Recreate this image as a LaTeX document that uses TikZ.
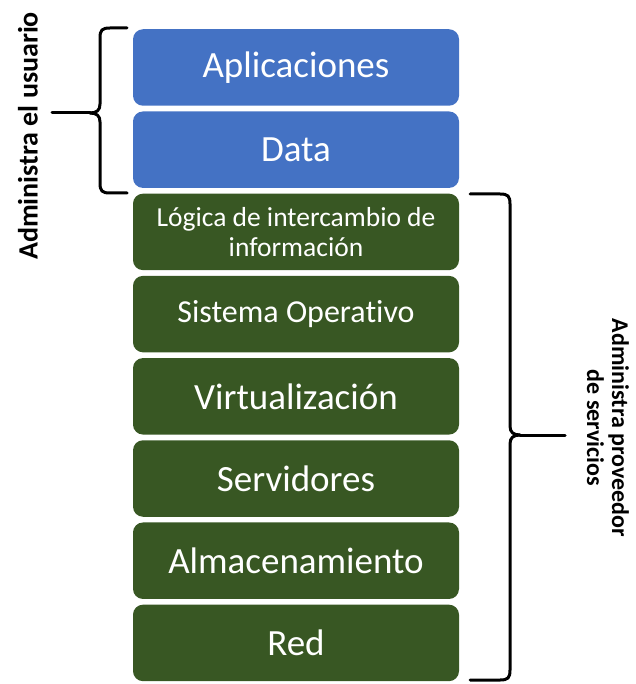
\documentclass[tikz,border=0pt]{standalone}
\usepackage{fontspec}
\setmainfont{Carlito}[Ligatures=NoCommon]
\usetikzlibrary{positioning}

\definecolor{userblue}{HTML}{4472C4}
\definecolor{provgreen}{HTML}{385723}

\begin{document}
\begin{tikzpicture}[x=1pt,y=-1pt,node distance=5.3pt]
    \tikzstyle{layer} = [rectangle, rounded corners=10pt, minimum width=326pt, minimum height=76.5pt, inner sep=0pt, text centered, text=white, font=\fontsize{37}{40}\selectfont]
    \tikzstyle{userlayer} = [layer, fill=userblue]
    \tikzstyle{provlayer} = [layer, fill=provgreen]
    \tikzstyle{brace} = [line width=3pt, line cap=round, line join=round]
    \tikzstyle{sidelabel} = [font=\fontsize{28}{30}\selectfont\bfseries, align=center]
    \useasboundingbox (0,0) rectangle (635,684);
    \node[userlayer] (apps) at (296,67.5) {Aplicaciones};
    \node[userlayer, below=of apps] (data) {Data};
    \node[provlayer, below=of data, align=center, font=\fontsize{27.5}{30}\selectfont] (logic) {Lógica de intercambio de\\información};
    \node[provlayer, below=of logic, font=\fontsize{32}{36}\selectfont] (os) {Sistema Operativo};
    \node[provlayer, below=of os] (virt) {Virtualización};
    \node[provlayer, below=of virt] (servers) {Servidores};
    \node[provlayer, below=of servers] (storage) {Almacenamiento};
    \node[provlayer, below=of storage] (net) {Red};
    % left brace
    \coordinate (usertip) at (90,113);
    \draw[brace] (127,28) -- (110,28) .. controls (102,28) and (100,30) .. (100,38) -- (100,104) .. controls (100,110) and (97,113) .. (usertip);
    \draw[brace] (127,193) -- (110,193) .. controls (102,193) and (100,191) .. (100,183) -- (100,122) .. controls (100,116) and (97,113) .. (usertip);
    \draw[brace] (usertip) -- (52,113);
    % right brace
    \coordinate (provtip) at (520,435);
    \draw[brace] (470,194) -- (500,194) .. controls (508,194) and (510,196) .. (510,204) -- (510,426) .. controls (510,432) and (513,435) .. (provtip);
    \draw[brace] (470,680) -- (500,680) .. controls (508,680) and (510,678) .. (510,670) -- (510,444) .. controls (510,438) and (513,435) .. (provtip);
    \draw[brace] (provtip) -- (565,435);
    \node[sidelabel, rotate=90] (userlbl) at (28,136) {Administra el usuario};
    \node[sidelabel, rotate=-90, font=\fontsize{24}{25}\selectfont\bfseries] (provlbl) at (608,428) {Administra proveedor\\de servicios};
\end{tikzpicture}
\end{document}
